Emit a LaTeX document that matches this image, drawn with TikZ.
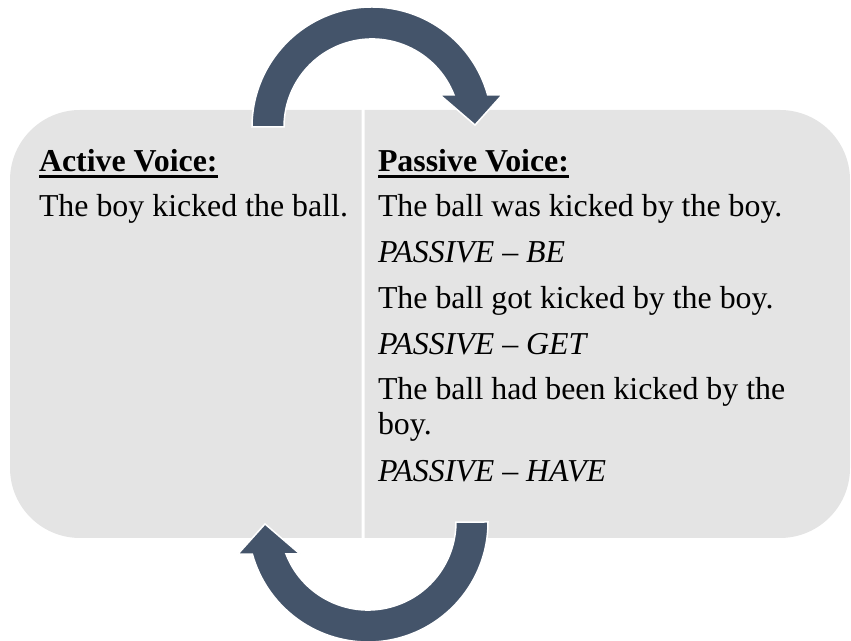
\documentclass[tikz,border=0pt]{standalone}
\usepackage{fontspec}
\setmainfont{Liberation Serif}
\definecolor{panelfill}{HTML}{E4E4E4}
\definecolor{arrowfill}{HTML}{44546A}
\tikzset{
  x=1bp, y=1bp,
  panel/.style={fill=panelfill, draw=none},
  cyclearrow/.style={fill=arrowfill, draw=white, line width=1.5bp, line join=miter},
  txt/.style={anchor=base west, inner sep=0pt, outer sep=0pt,
    font=\fontsize{32}{35}\selectfont, text=black},
  head/.style={txt, font=\fontsize{32}{35}\selectfont\bfseries},
  tag/.style={txt, font=\fontsize{32}{35}\selectfont\itshape},
  uline/.style={line width=2.6bp, draw=black}
}
\begin{document}
\begin{tikzpicture}
\useasboundingbox (0,0) rectangle (851,641);

% two panels: rounded on the outer side only
\path[panel] (361.5,103) -- (80,103) arc[start angle=270, end angle=180, radius=70]
  -- (10,461) arc[start angle=180, end angle=90, radius=70] -- (361.5,531) -- cycle;
\path[panel] (364.5,103) -- (780,103) arc[start angle=270, end angle=360, radius=70]
  -- (850,461) arc[start angle=0, end angle=90, radius=70] -- (364.5,531) -- cycle;

% upper circular arrow (left to right)
\draw[cyclearrow] (252,514) arc[start angle=180, end angle=15.5, radius=120]
  -- (502,546) -- (475,516) -- (440,546) -- (454,546)
  arc[start angle=21.3, end angle=180, radius=88] -- cycle;

% lower circular arrow (right to left)
\draw[cyclearrow] (488,119) arc[start angle=0, end angle=-164.5, radius=120]
  -- (238,87) -- (265,117) -- (300,87) -- (286,87)
  arc[start angle=-158.7, end angle=0, radius=88] -- cycle;

% left panel text
\node[head] (acth) at (39,469) {Active Voice:};
\draw[uline] ([yshift=-4.5bp]acth.base west) -- ([yshift=-4.5bp]acth.base east);
\node[txt] (act1) at (39,424) {The boy kicked the ball.};

% right panel text
\node[head] (pash) at (378,469) {Passive Voice:};
\draw[uline] ([yshift=-4.5bp]pash.base west) -- ([yshift=-4.5bp]pash.base east);
\node[txt] (pas1) at (378,424) {The ball was kicked by the boy.};
\node[tag] (tag1) at (378,378) {PASSIVE – BE};
\node[txt] (pas2) at (378,332) {The ball got kicked by the boy.};
\node[tag] (tag2) at (378,286) {PASSIVE – GET};
\node[txt] (pas3a) at (378,241) {The ball had been kicked by the};
\node[txt] (pas3b) at (378,206) {boy.};
\node[tag] (tag3) at (378,159) {PASSIVE – HAVE};
\end{tikzpicture}
\end{document}
